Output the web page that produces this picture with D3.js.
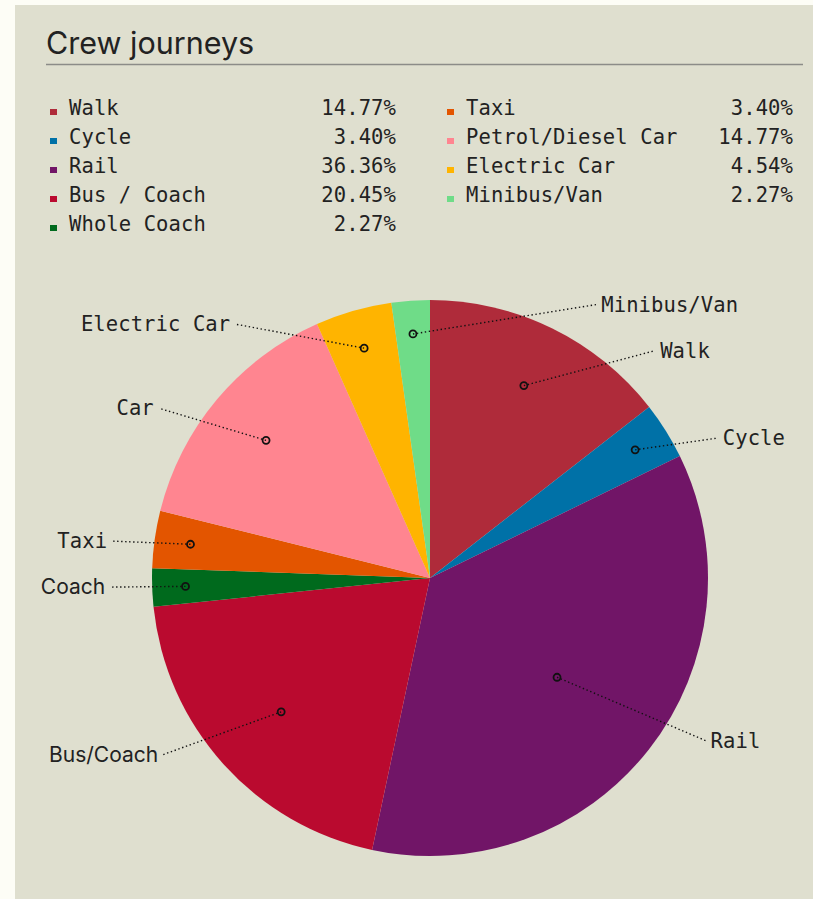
<!DOCTYPE html>
<html>
<head>
<meta charset="utf-8">
<script src="https://cdn.jsdelivr.net/npm/d3@7"></script>
<style>
  body { margin: 0; background: #fdfdf6; }
  svg { display: block; }
  .mono { font-family: "DejaVu Sans Mono", monospace; font-size: 20.5px; letter-spacing: 0.1px; fill: #222; }
  .sans { font-family: Inter, "Noto Sans", sans-serif; fill: #222; }
</style>
</head>
<body>
<script>
// journey shares, in the order the legend lists them
var categories = ["Walk", "Cycle", "Rail", "Bus / Coach", "Whole Coach",
                  "Taxi", "Petrol/Diesel Car", "Electric Car", "Minibus/Van"];
var shares = [14.77, 3.40, 36.36, 20.45, 2.27, 3.40, 14.77, 4.54, 2.27];
var pieLabels = ["Walk", "Cycle", "Rail", "Bus/Coach", "Coach",
                 "Taxi", "Car", "Electric Car", "Minibus/Van"];
var colours = ["#af2b3a", "#0071a7", "#711567", "#ba0a2f", "#006a1d",
               "#e35500", "#ff8590", "#ffb400", "#6fdc88"];

var width = 813, height = 899;
var cx = 430, cy = 578, R = 278;

var data = categories.map(function(c, i) {
  return {name: c, label: pieLabels[i], share: shares[i]};
});

var color = d3.scaleOrdinal().domain(categories).range(colours);

var svg = d3.select("body").append("svg")
    .attr("width", width)
    .attr("height", height);

// panel
svg.append("rect")
    .attr("x", 15).attr("y", 5)
    .attr("width", width - 15).attr("height", height - 5)
    .attr("fill", "#dfdfcf");

svg.append("text")
    .attr("class", "sans")
    .attr("x", 46).attr("y", 54)
    .style("font-size", "30.5px")
    .text("Crew journeys");

svg.append("line")
    .attr("x1", 46).attr("x2", 803)
    .attr("y1", 64.5).attr("y2", 64.5)
    .attr("stroke", "#8c8c88")
    .attr("stroke-width", 1.5);

// legend, two columns
var colX = d3.scaleOrdinal().domain([0, 1]).range([50, 447]);
var rowY = d3.scaleLinear().domain([0, 4]).range([115, 231]);
var fmt = d3.format(".2f");

var leg = svg.append("g").selectAll("g")
    .data(data)
  .enter().append("g")
    .attr("transform", function(d, i) {
      var col = i < 5 ? 0 : 1, row = i < 5 ? i : i - 5;
      return "translate(" + colX(col) + "," + rowY(row) + ")";
    });

leg.append("rect")
    .attr("x", 0).attr("y", -6)
    .attr("width", 7).attr("height", 6)
    .attr("fill", function(d) { return color(d.name); });

leg.append("text")
    .attr("class", "mono")
    .attr("x", 19)
    .text(function(d) { return d.name; });

leg.append("text")
    .attr("class", "mono")
    .attr("x", 346)
    .attr("text-anchor", "end")
    .text(function(d) { return fmt(d.share) + "%"; });

// pie
var pie = d3.pie().sort(null).value(function(d) { return d.share; });
var arcs = pie(data);
var arc = d3.arc().innerRadius(0).outerRadius(R);
var total = d3.sum(shares);

var g = svg.append("g").attr("transform", "translate(" + cx + "," + cy + ")");

g.selectAll("path")
    .data(arcs)
  .enter().append("path")
    .attr("d", arc)
    .attr("fill", function(d) { return color(d.data.name); });

// label layout: dots inside slices, text pushed apart on each side
var items = arcs.map(function(a) {
  var mid = (a.startAngle + a.endAngle) / 2;
  var frac = a.value / total;
  var rDot = R * (0.9 - 0.9 * frac);
  return {
    d: a,
    mid: mid,
    dot: [Math.sin(mid) * rDot, -Math.cos(mid) * rDot],
    y: -Math.cos(mid) * R * 0.95,
    side: Math.sin(mid) >= 0 ? 1 : -1,
    top: Math.cos(mid) > Math.cos(15 * Math.PI / 180)
  };
});

var nRight = items.filter(function(t) { return !t.top && t.side > 0; }).length;
var nLeft = items.filter(function(t) { return !t.top && t.side < 0; }).length;
items.forEach(function(t) { if (t.top) t.side = nRight <= nLeft ? 1 : -1; });

var gap = 46;
[1, -1].forEach(function(s) {
  var list = items.filter(function(t) { return t.side === s; })
      .sort(function(a, b) { return a.y - b.y; });
  for (var k = 0; k < 60; k++) {
    for (var i = 1; i < list.length; i++) {
      var over = gap - (list[i].y - list[i - 1].y);
      if (over > 0) { list[i].y += over / 2; list[i - 1].y -= over / 2; }
    }
  }
});

var Rl = R + 42;
items.forEach(function(t) {
  var h = Math.sqrt(Math.max(0, Rl * Rl - t.y * t.y));
  t.x = t.side * h;
});

var lab = g.append("g").selectAll("g")
    .data(items)
  .enter().append("g");

lab.append("line")
    .attr("x1", function(t) { return t.dot[0]; })
    .attr("y1", function(t) { return t.dot[1]; })
    .attr("x2", function(t) { return t.x; })
    .attr("y2", function(t) { return t.y; })
    .attr("stroke", "#111")
    .attr("stroke-width", 1.4)
    .attr("stroke-dasharray", "1.4,2.6");

lab.append("circle")
    .attr("cx", function(t) { return t.dot[0]; })
    .attr("cy", function(t) { return t.dot[1]; })
    .attr("r", 3.5)
    .attr("fill", "none")
    .attr("stroke", "#111")
    .attr("stroke-width", 1.8);

lab.append("text")
    .attr("class", function(t) { return t.d.data.label.indexOf("Coach") >= 0 ? "sans" : "mono"; })
    .style("font-size", function(t) { return t.d.data.label.indexOf("Coach") >= 0 ? "21px" : null; })
    .attr("x", function(t) { return t.x + t.side * 5; })
    .attr("y", function(t) { return t.y; })
    .attr("dy", "0.35em")
    .attr("text-anchor", function(t) { return t.side > 0 ? "start" : "end"; })
    .text(function(t) { return t.d.data.label; });
</script>
</body>
</html>
